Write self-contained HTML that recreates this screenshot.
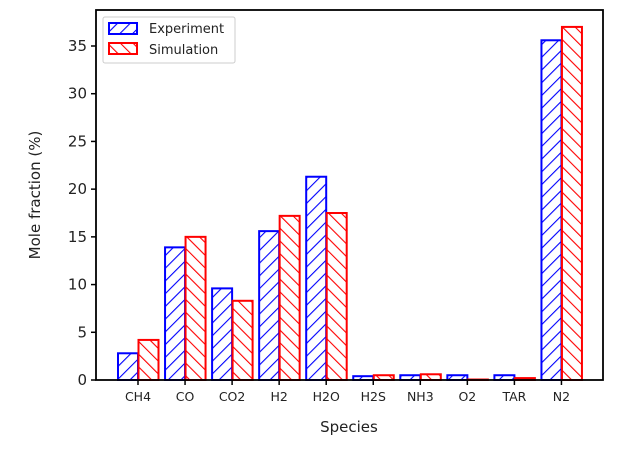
<!DOCTYPE html>
<html><head><style>body{margin:0;background:#fff}svg{display:block}text{font-family:"DejaVu Sans","Liberation Sans",sans-serif;fill:#222}</style></head>
<body>
<svg width="628" height="450" viewBox="0 0 628 450" xmlns="http://www.w3.org/2000/svg">
<defs>
<pattern id="hb" patternUnits="userSpaceOnUse" width="9" height="9" patternTransform="rotate(45)"><rect width="9" height="9" fill="#fff"/><line x1="0" y1="0" x2="0" y2="9" stroke="#00f" stroke-width="2.2"/></pattern>
<pattern id="hr" patternUnits="userSpaceOnUse" width="9" height="9" patternTransform="rotate(-45)"><rect width="9" height="9" fill="#fff"/><line x1="0" y1="0" x2="0" y2="9" stroke="#f00" stroke-width="2.2"/></pattern>
</defs>
<g id="bars"></g>
<rect x="96" y="10" width="507" height="370" fill="none" stroke="#000" stroke-width="1.8"/>
<g id="yt" font-size="15" text-anchor="end"></g>
<g id="xt" font-size="12.5" text-anchor="middle"></g>
<text x="349" y="432" font-size="15" text-anchor="middle">Species</text>
<text transform="translate(40,195) rotate(-90)" font-size="15" text-anchor="middle">Mole fraction (%)</text>
<rect x="103" y="17" width="132" height="46" fill="#fff" stroke="#ccc" rx="2"/>
<rect x="109" y="23" width="28" height="11" fill="url(#hb)" stroke="#00f" stroke-width="2"/>
<rect x="109" y="43" width="28" height="11" fill="url(#hr)" stroke="#f00" stroke-width="2"/>
<text x="149" y="33" font-size="13">Experiment</text>
<text x="149" y="54" font-size="13">Simulation</text>
</svg>
<script>
const names=["CH4","CO","CO2","H2","H2O","H2S","NH3","O2","TAR","N2"];
const e=[2.8,13.9,9.6,15.6,21.3,0.4,0.5,0.5,0.5,35.6];
const s=[4.2,15.0,8.3,17.2,17.5,0.5,0.6,0.05,0.2,37.0];
const k=334/35,b0=380,ns="http://www.w3.org/2000/svg";
let g=document.getElementById('bars'),xt=document.getElementById('xt'),yt=document.getElementById('yt');
function el(t,a,p){let n=document.createElementNS(ns,t);for(let q in a)n.setAttribute(q,a[q]);p.appendChild(n);return n;}
names.forEach((n,i)=>{let c=138+i*47.05;
el('rect',{x:c-20,y:b0-e[i]*k,width:20,height:e[i]*k,fill:'url(#hb)',stroke:'#00f','stroke-width':2},g);
el('rect',{x:c+0.5,y:b0-s[i]*k,width:20,height:s[i]*k,fill:'url(#hr)',stroke:'#f00','stroke-width':2},g);
el('line',{x1:c,x2:c,y1:380,y2:385,stroke:'#000','stroke-width':1.5},xt);
el('text',{x:c,y:401},xt).textContent=n;});
for(let v=0;v<=35;v+=5){let y=b0-v*k;el('line',{x1:91,x2:96,y1:y,y2:y,stroke:'#000','stroke-width':1.5},yt);el('text',{x:87,y:y+5},yt).textContent=v;}
</script>
</body></html>
